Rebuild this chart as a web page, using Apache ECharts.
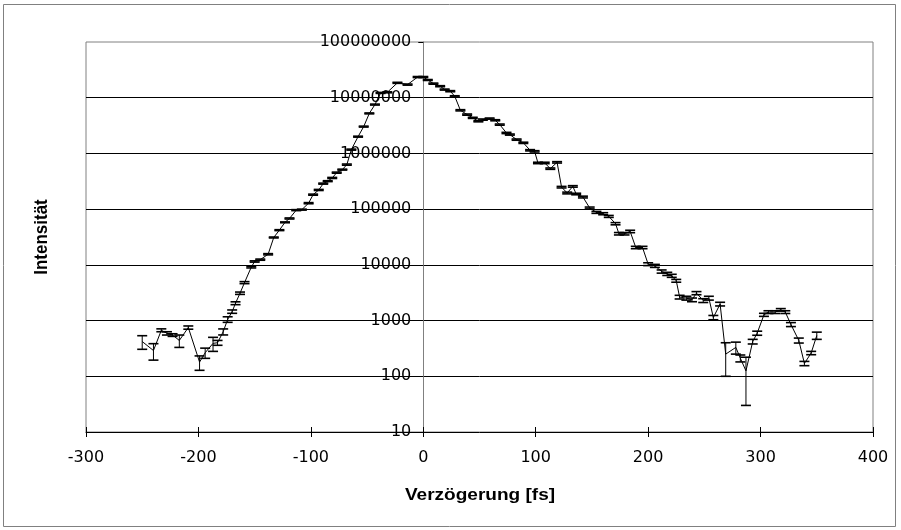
<!DOCTYPE html>
<html>
<head>
<meta charset="utf-8">
<script src="https://cdn.jsdelivr.net/npm/echarts@6/dist/echarts.min.js"></script>
<style>
    html, body { margin: 0; padding: 0; background: #fff; }
    #chart { width: 901px; height: 530px; }
</style>
</head>
<body>
<div id="chart"></div>
<script>
// delay in fs
var delays = [
    -250, -240, -233, -228, -223, -217, -209, -199, -194, -187,
    -183, -178, -174, -170, -167, -163, -159, -153, -150, -145,
    -138, -133, -128, -123, -119, -113, -108, -102, -98, -93,
    -89, -85, -81, -77, -72, -68, -64, -58, -53, -48,
    -43, -38, -32, -23, -14, -5, 0, 4, 9, 15,
    19, 24, 28, 33, 39, 44, 49, 53, 59, 64,
    68, 74, 77, 83, 89, 95, 99, 102, 108, 113,
    119, 123, 128, 133, 136, 142, 148, 154, 160, 165,
    171, 174, 179, 184, 189, 195, 200, 206, 212, 217,
    221, 225, 228, 234, 239, 243, 249, 254, 258, 264,
    269, 278, 282, 287, 293, 297, 303, 307, 313, 318,
    322, 327, 334, 339, 345, 350
];
// measured intensity
var intensity = [
    420, 290, 670, 590, 550, 440, 750, 180, 265, 390,
    400, 630, 1050, 1450, 2050, 3100, 4800, 9100, 11500, 12400,
    15500, 31000, 42000, 58000, 68000, 96000, 98000, 128000, 182000, 221000,
    287000, 318000, 363000, 452000, 512000, 630000, 1170000, 2000000, 3030000, 5230000,
    7530000, 12200000, 12500000, 18500000, 17200000, 23500000, 23500000, 20800000, 17900000, 16100000,
    14000000, 13100000, 10600000, 5950000, 4980000, 4350000, 3780000, 4050000, 4220000, 3940000,
    3290000, 2330000, 2180000, 1770000, 1550000, 1140000, 1090000, 675000, 675000, 533000,
    692000, 248000, 195000, 256000, 187000, 165000, 105000, 87500, 82800, 74100,
    54800, 36200, 36200, 39800, 20500, 20500, 10300, 9600, 7600, 6900,
    6370, 5180, 2640, 2530, 2360, 3110, 2290, 2530, 1135, 1980,
    250, 330, 211, 125, 420, 595, 1270, 1420, 1420, 1560,
    1420, 850, 440, 170, 262, 540
];
// error (+/-)
var errors = [
    115, 95, 40, 40, 30, 110, 50, 52, 55, 110,
    40, 78, 120, 100, 120, 150, 200, 300, 300, 300,
    400, 600, 800, 1000, 1500, 2000, 2000, 3000, 4000, 5000,
    6000, 6000, 8000, 10000, 10000, 15000, 25000, 40000, 60000, 100000,
    150000, 250000, 250000, 400000, 400000, 500000, 500000, 400000, 400000, 350000,
    300000, 300000, 250000, 150000, 120000, 100000, 90000, 100000, 100000, 90000,
    80000, 60000, 50000, 45000, 40000, 30000, 30000, 20000, 20000, 15000,
    20000, 8000, 7000, 8000, 6000, 6000, 4000, 3500, 3500, 3000,
    2500, 1800, 1800, 2000, 1000, 1000, 600, 600, 500, 450,
    400, 300, 200, 200, 180, 200, 180, 200, 100, 150,
    150, 80, 30, 95, 40, 50, 80, 80, 80, 80,
    80, 70, 45, 15, 18, 80
];
var xTicks = [-300, 400, 100];
var yRange = [10, 100000000];

var lineData = [];
var barData = [];
for (var i = 0; i < delays.length; i++) {
    lineData.push([delays[i], intensity[i]]);
    barData.push([delays[i], intensity[i], errors[i]]);
}

var font = 'Liberation Sans, Arial, sans-serif';
var tickFont = 'DejaVu Sans, sans-serif';

// plot box in pixels
var plotLeft = 86, plotRight = 28, plotTop = 42, plotBottom = 98;
var plotW = 901 - plotLeft - plotRight;
// the value axis sits at delay 0
var zeroX = plotLeft + (0 - xTicks[0]) / (xTicks[1] - xTicks[0]) * plotW;

var chart = echarts.init(document.getElementById('chart'));

function renderErrorBar(params, api) {
    var x = api.value(0), v = api.value(1), e = api.value(2);
    var top = api.coord([x, v + e]);
    var bot = api.coord([x, Math.max(v - e, 1)]);
    var hw = 5;
    var st = { stroke: '#000', lineWidth: 1 };
    var cap = { stroke: '#000', lineWidth: 1.6 };
    return {
        type: 'group',
        children: [
            { type: 'line', shape: { x1: top[0], y1: top[1], x2: bot[0], y2: bot[1] }, style: st },
            { type: 'line', shape: { x1: top[0] - hw, y1: top[1], x2: top[0] + hw, y2: top[1] }, style: cap },
            { type: 'line', shape: { x1: bot[0] - hw, y1: bot[1], x2: bot[0] + hw, y2: bot[1] }, style: cap }
        ]
    };
}

var option = {
    animation: false,
    backgroundColor: '#fff',
    grid: [{
        left: plotLeft, right: plotRight, top: plotTop, bottom: plotBottom,
        outerBoundsMode: 'none',
        show: true,
        borderColor: '#808080',
        borderWidth: 1,
        backgroundColor: '#fff'
    }, {
        left: zeroX, right: plotRight, top: plotTop, bottom: plotBottom,
        outerBoundsMode: 'none'
    }],
    graphic: [
        {
            type: 'rect',
            shape: { x: 3.5, y: 4.5, width: 892, height: 522 },
            style: { fill: 'none', stroke: '#808080', lineWidth: 1 },
            silent: true
        },
        {
            type: 'text',
            x: 42, y: 237,
            rotation: Math.PI / 2,
            scaleY: 1.1,
            style: {
                text: 'Intensität',
                font: 'bold 17px ' + font,
                fill: '#000',
                align: 'center',
                verticalAlign: 'middle'
            }
        },
        {
            type: 'text',
            x: 480, y: 495,
            scaleX: 1.12,
            style: {
                text: 'Verzögerung [fs]',
                font: 'bold 17px ' + font,
                fill: '#000',
                align: 'center',
                verticalAlign: 'middle'
            }
        }
    ],
    xAxis: [{
        gridIndex: 0,
        type: 'value',
        min: xTicks[0],
        max: xTicks[1],
        interval: xTicks[2],
        position: 'bottom',
        axisLine: { onZero: false, lineStyle: { color: '#000', width: 1 } },
        axisTick: { length: 5, lineStyle: { color: '#000' } },
        axisLabel: { color: '#000', fontSize: 16, fontFamily: tickFont, margin: 18 },
        splitLine: { show: false }
    }, {
        gridIndex: 0,
        type: 'value',
        min: xTicks[0],
        max: xTicks[1],
        interval: xTicks[2],
        position: 'bottom',
        axisLine: { show: false, onZero: false },
        axisTick: { inside: true, length: 5, lineStyle: { color: '#000' } },
        axisLabel: { show: false },
        splitLine: { show: false }
    }, {
        gridIndex: 1,
        type: 'value',
        min: 0,
        max: 1,
        show: false
    }],
    yAxis: [{
        gridIndex: 0,
        type: 'log',
        logBase: 10,
        min: yRange[0],
        max: yRange[1],
        axisLine: { show: false },
        axisTick: { show: false },
        axisLabel: { show: false },
        splitLine: {
            show: true,
            showMinLine: false,
            showMaxLine: false,
            lineStyle: { color: '#000', width: 1 }
        }
    }, {
        gridIndex: 1,
        type: 'log',
        logBase: 10,
        min: yRange[0],
        max: yRange[1],
        position: 'left',
        axisLine: { onZero: false, lineStyle: { color: '#808080', width: 1 } },
        axisTick: { length: 5, lineStyle: { color: '#000' } },
        axisLabel: {
            color: '#000', fontSize: 16, fontFamily: tickFont, margin: 12,
            formatter: function (v) { return String(Math.round(v)); }
        },
        splitLine: { show: false }
    }],
    series: [{
        type: 'line',
        xAxisIndex: 0,
        yAxisIndex: 0,
        data: lineData,
        showSymbol: false,
        symbol: 'none',
        lineStyle: { color: '#000', width: 1 },
        z: 3
    }, {
        type: 'custom',
        xAxisIndex: 0,
        yAxisIndex: 0,
        data: barData,
        renderItem: renderErrorBar,
        z: 4
    }]
};
chart.setOption(option);
</script>
</body>
</html>
